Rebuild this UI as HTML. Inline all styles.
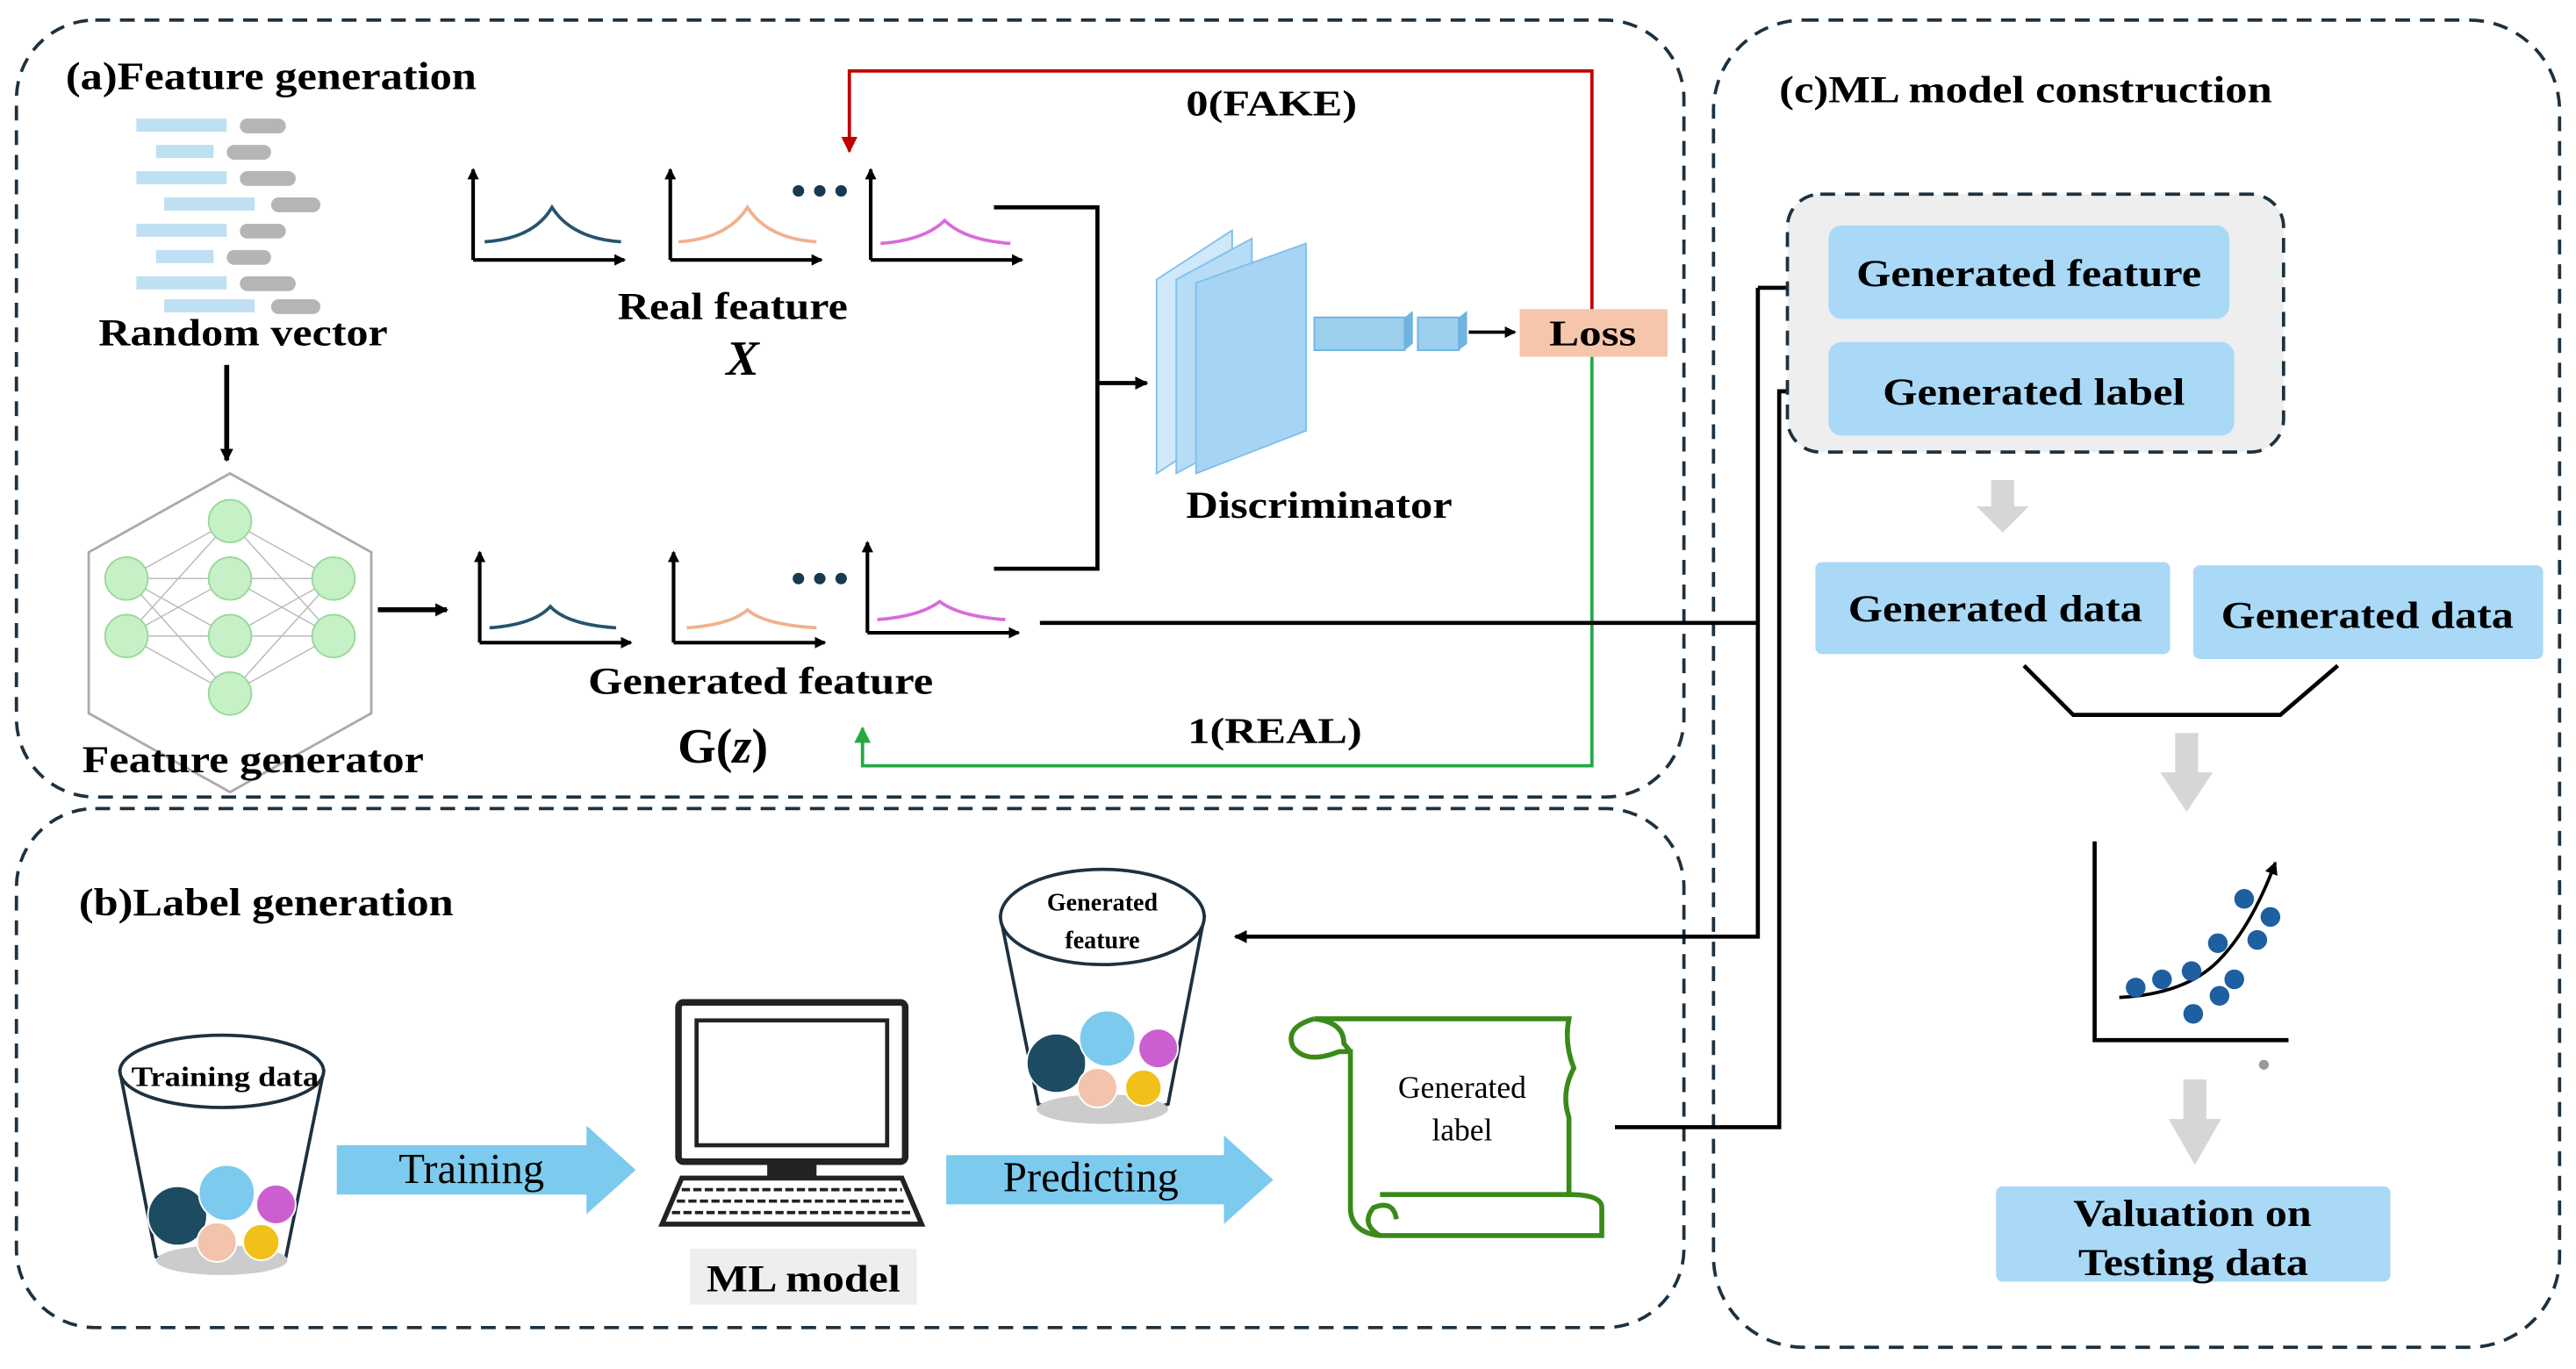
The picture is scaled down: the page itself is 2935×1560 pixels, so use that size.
<!DOCTYPE html>
<html><head><meta charset="utf-8"><style>
html,body{margin:0;padding:0;background:#fff;}
svg{display:block;}
text{font-family:"Liberation Serif",serif;font-weight:bold;}
</style></head><body>
<svg width="2935" height="1560" viewBox="0 0 1568 833" xmlns="http://www.w3.org/2000/svg">
<defs>
<marker id="ah" markerWidth="8" markerHeight="8" refX="7" refY="4" orient="auto" markerUnits="userSpaceOnUse"><path d="M0,0 L8,4 L0,8 z" fill="#000"/></marker>
<marker id="ahs" markerWidth="7" markerHeight="7" refX="6" refY="3.5" orient="auto" markerUnits="userSpaceOnUse"><path d="M0,0 L7,3.5 L0,7 z" fill="#000"/></marker>
<marker id="ahr" markerWidth="10" markerHeight="10" refX="9" refY="5" orient="auto" markerUnits="userSpaceOnUse"><path d="M0,0 L10,5 L0,10 z" fill="#c00000"/></marker>
<marker id="ahg" markerWidth="10" markerHeight="10" refX="9" refY="5" orient="auto" markerUnits="userSpaceOnUse"><path d="M0,0 L10,5 L0,10 z" fill="#22aa44"/></marker>
<g id="plot">
<path d="M0,55 V0" stroke="#000" stroke-width="2.2" marker-end="url(#ahs)"/>
<path d="M0,55 H92" stroke="#000" stroke-width="2.2" marker-end="url(#ahs)"/>
</g>
</defs>
<g fill="none" stroke="#1d3140" stroke-width="2" stroke-dasharray="9,6">
<rect x="10" y="12" width="1015" height="473" rx="48"/>
<rect x="10" y="492" width="1015" height="316" rx="48"/>
<rect x="1043" y="12" width="515" height="808" rx="55"/>
</g>
<text x="40" y="54" font-size="24" textLength="250" lengthAdjust="spacingAndGlyphs">(a)Feature generation</text>
<text x="48" y="557" font-size="24" textLength="228" lengthAdjust="spacingAndGlyphs">(b)Label generation</text>
<text x="1083" y="62" font-size="23" textLength="300" lengthAdjust="spacingAndGlyphs">(c)ML model construction</text>

<g fill="#bfe0f3">
<rect x="83" y="72" width="55" height="8"/><rect x="95" y="88" width="35" height="8"/><rect x="83" y="104" width="55" height="8"/><rect x="100" y="120" width="55" height="8"/>
<rect x="83" y="136" width="55" height="8"/><rect x="95" y="152" width="35" height="8"/><rect x="83" y="168" width="55" height="8"/><rect x="100" y="182" width="55" height="8"/>
</g>
<g fill="#b5b5b5">
<rect x="146" y="72" width="28" height="9" rx="4.5"/><rect x="138" y="88" width="27" height="9" rx="4.5"/><rect x="146" y="104" width="34" height="9" rx="4.5"/><rect x="165" y="120" width="30" height="9" rx="4.5"/>
<rect x="146" y="136" width="28" height="9" rx="4.5"/><rect x="138" y="152" width="27" height="9" rx="4.5"/><rect x="146" y="168" width="34" height="9" rx="4.5"/><rect x="165" y="182" width="30" height="9" rx="4.5"/>
</g>
<text x="60" y="210" font-size="23" textLength="176" lengthAdjust="spacingAndGlyphs">Random vector</text>
<path d="M138,222 V280" stroke="#000" stroke-width="3" marker-end="url(#ah)"/>

<polygon points="140,288 226,336 226,434 140,482 54,434 54,336" fill="#fff" stroke="#aaa" stroke-width="1.5"/>
<g stroke="#bbb" stroke-width="0.8">
<path d="M77,352 L140,317 M77,352 L140,352 M77,352 L140,387 M77,352 L140,422 M77,387 L140,317 M77,387 L140,352 M77,387 L140,387 M77,387 L140,422 M203,352 L140,317 M203,352 L140,352 M203,352 L140,387 M203,352 L140,422 M203,387 L140,317 M203,387 L140,352 M203,387 L140,387 M203,387 L140,422"/>
</g>
<g fill="#c6f0c6" stroke="#9ad89a">
<circle cx="140" cy="317" r="13"/><circle cx="140" cy="352" r="13"/><circle cx="140" cy="387" r="13"/><circle cx="140" cy="422" r="13"/>
<circle cx="77" cy="352" r="13"/><circle cx="77" cy="387" r="13"/><circle cx="203" cy="352" r="13"/><circle cx="203" cy="387" r="13"/>
</g>
<text x="50" y="470" font-size="23" textLength="208" lengthAdjust="spacingAndGlyphs">Feature generator</text>
<path d="M230,371 H272" stroke="#000" stroke-width="3" marker-end="url(#ah)"/>

<use href="#plot" x="288" y="103"/>
<path d="M295,147 Q325,145 336,126 Q348,145 378,147" fill="none" stroke="#25546e" stroke-width="2"/>
<use href="#plot" x="408" y="103"/>
<path d="M413,147 Q443,145 455,126 Q467,145 497,147" fill="none" stroke="#f0b08e" stroke-width="2"/>
<use href="#plot" x="530" y="103"/>
<path d="M536,148 Q563,146 575,134 Q587,146 615,148" fill="none" stroke="#d86cd8" stroke-width="2"/>
<g fill="#173a50"><circle cx="486" cy="116" r="3.5"/><circle cx="499" cy="116" r="3.5"/><circle cx="512" cy="116" r="3.5"/></g>
<text x="376" y="194" font-size="23" textLength="140" lengthAdjust="spacingAndGlyphs">Real feature</text>
<text x="452" y="228" font-size="30" text-anchor="middle" font-style="italic">X</text>

<use href="#plot" x="292" y="336"/>
<path d="M298,382 Q325,380 335,369 Q345,380 375,382" fill="none" stroke="#25546e" stroke-width="2"/>
<use href="#plot" x="410" y="336"/>
<path d="M418,382 Q445,380 455,371 Q465,380 497,382" fill="none" stroke="#f0b08e" stroke-width="2"/>
<use href="#plot" x="528" y="330"/>
<path d="M534,377 Q560,375 572,366 Q584,375 612,377" fill="none" stroke="#d86cd8" stroke-width="2"/>
<g fill="#173a50"><circle cx="486" cy="352" r="3.5"/><circle cx="499" cy="352" r="3.5"/><circle cx="512" cy="352" r="3.5"/></g>
<text x="358" y="422" font-size="23" textLength="210" lengthAdjust="spacingAndGlyphs">Generated feature</text>
<text x="440" y="464" font-size="30" text-anchor="middle">G(<tspan font-style="italic">z</tspan>)</text>

<path d="M605,126 H668 V346 H605" fill="none" stroke="#000" stroke-width="2.5"/>
<path d="M668,233 H698" stroke="#000" stroke-width="2.5" marker-end="url(#ah)"/>
<g stroke="#7fc0ea" stroke-width="1">
<polygon points="704,170 750,140 750,258 704,288" fill="#cfe9fa"/>
<polygon points="716,170 762,145 762,263 716,288" fill="#b6dcf6"/>
<polygon points="728,172 795,148 795,262 728,288" fill="#a6d4f4"/>
</g>
<rect x="800" y="193" width="55" height="20" fill="#9ccfee" stroke="#6fb3e0"/>
<polygon points="855,193 860,189 860,209 855,213" fill="#6fb3e0"/>
<rect x="863" y="193" width="25" height="20" fill="#9ccfee" stroke="#6fb3e0"/>
<polygon points="888,193 893,189 893,209 888,213" fill="#6fb3e0"/>
<path d="M894,202 H922" stroke="#000" stroke-width="2" marker-end="url(#ahs)"/>
<text x="722" y="315" font-size="23" textLength="162" lengthAdjust="spacingAndGlyphs">Discriminator</text>
<rect x="925" y="188" width="90" height="29" fill="#f6c6ac"/>
<text x="943" y="210" font-size="22" textLength="53" lengthAdjust="spacingAndGlyphs">Loss</text>

<path d="M969,188 V43 H517 V92" fill="none" stroke="#c00000" stroke-width="2" marker-end="url(#ahr)"/>
<text x="722" y="70" font-size="22" textLength="104" lengthAdjust="spacingAndGlyphs">0(FAKE)</text>
<path d="M969,217 V466 H525 V443" fill="none" stroke="#22aa44" stroke-width="2" marker-end="url(#ahg)"/>
<text x="723" y="452" font-size="22" textLength="106" lengthAdjust="spacingAndGlyphs">1(REAL)</text>

<path d="M633,379 H1070" fill="none" stroke="#000" stroke-width="2.5"/>
<path d="M1070,175 V570 H752" fill="none" stroke="#000" stroke-width="2.5" marker-end="url(#ah)"/>
<path d="M1070,175 H1115" fill="none" stroke="#000" stroke-width="2.5" marker-end="url(#ah)"/>
<path d="M983,686 H1083 V238 H1112" fill="none" stroke="#000" stroke-width="2.5" marker-end="url(#ah)"/>

<rect x="1088" y="118" width="302" height="157" rx="20" fill="#eeeeee" stroke="#1d3140" stroke-width="2" stroke-dasharray="9,6"/>
<rect x="1113" y="137" width="244" height="57" rx="8" fill="#a9d9f7"/>
<text x="1130" y="174" font-size="23" textLength="210" lengthAdjust="spacingAndGlyphs">Generated feature</text>
<rect x="1113" y="208" width="247" height="57" rx="8" fill="#a9d9f7"/>
<text x="1146" y="246" font-size="23" textLength="184" lengthAdjust="spacingAndGlyphs">Generated label</text>
<path d="M1212,292 h14 v16 h9 l-16,16 l-16,-16 h9 z" fill="#d6d6d6"/>
<rect x="1105" y="342" width="216" height="56" rx="4" fill="#a9d9f7"/>
<text x="1125" y="378" font-size="23" textLength="179" lengthAdjust="spacingAndGlyphs">Generated data</text>
<rect x="1335" y="344" width="213" height="57" rx="4" fill="#a9d9f7"/>
<text x="1352" y="382" font-size="23" textLength="178" lengthAdjust="spacingAndGlyphs">Generated data</text>
<path d="M1232,405 L1262,435 H1388 L1423,405" fill="none" stroke="#000" stroke-width="2.5"/>
<path d="M1324,446 h14 v24 h9 l-16,24 l-16,-24 h9 z" fill="#d6d6d6"/>
<path d="M1275,512 V633 H1393" fill="none" stroke="#000" stroke-width="2.5"/>
<path d="M1290,607 Q1330,605 1350,585 Q1370,565 1385,525" fill="none" stroke="#000" stroke-width="2" marker-end="url(#ah)"/>
<g fill="#1d5fa0">
<circle cx="1300" cy="601" r="6"/><circle cx="1316" cy="596" r="6"/><circle cx="1334" cy="591" r="6"/><circle cx="1335" cy="617" r="6"/><circle cx="1351" cy="606" r="6"/>
<circle cx="1360" cy="596" r="6"/><circle cx="1350" cy="574" r="6"/><circle cx="1374" cy="572" r="6"/><circle cx="1382" cy="558" r="6"/><circle cx="1366" cy="547" r="6"/>
</g>
<circle cx="1378" cy="648" r="3" fill="#999"/>
<path d="M1329,657 h14 v24 h9 l-16,28 l-16,-28 h9 z" fill="#d6d6d6"/>
<rect x="1215" y="722" width="240" height="58" rx="4" fill="#a9d9f7"/>
<text x="1262" y="746" font-size="23" textLength="145" lengthAdjust="spacingAndGlyphs">Valuation on</text>
<text x="1265" y="776" font-size="23" textLength="140" lengthAdjust="spacingAndGlyphs">Testing data</text>

<path d="M73,652 L95,765 Q135,777 174,765 L197,652 Z" fill="#fff" stroke="#1d3140" stroke-width="2"/>
<ellipse cx="135" cy="767" rx="40" ry="9" fill="#ccc"/>
<ellipse cx="135" cy="652" rx="62" ry="22" fill="#fff" stroke="#1d3140" stroke-width="2"/>
<text x="80" y="661" font-size="17" textLength="114" lengthAdjust="spacingAndGlyphs">Training data</text>
<circle cx="108" cy="740" r="18" fill="#1c4b62" stroke="#fff"/>
<circle cx="138" cy="726" r="17" fill="#7ccaee" stroke="#fff"/>
<circle cx="168" cy="733" r="12" fill="#cc5fcf" stroke="#fff"/>
<circle cx="132" cy="756" r="12" fill="#f3c3ac" stroke="#fff"/>
<circle cx="159" cy="756" r="11" fill="#f1c11a" stroke="#fff"/>
<path d="M205,697 H357 V685 L387,712 L357,739 V727 H205 Z" fill="#7ccaee"/>
<text x="287" y="720" font-size="26" text-anchor="middle" style="font-weight:normal">Training</text>
<rect x="413" y="610" width="138" height="97" rx="3" fill="#fff" stroke="#222" stroke-width="4"/>
<rect x="424" y="621" width="116" height="76" fill="#fff" stroke="#222" stroke-width="2.5"/>
<rect x="467" y="707" width="30" height="10" fill="#222"/>
<path d="M415,717 H549 L561,745 H403 Z" fill="#fff" stroke="#222" stroke-width="3"/>
<path d="M415,724 H549 M412,731 H552 M409,738 H555" stroke="#222" stroke-width="2" stroke-dasharray="5,2"/>
<rect x="420" y="760" width="138" height="34" fill="#eeeeee"/>
<text x="430" y="786" font-size="23" textLength="118" lengthAdjust="spacingAndGlyphs">ML model</text>
<path d="M576,703 H745 V691 L775,718 L745,745 V733 H576 Z" fill="#7ccaee"/>
<text x="664" y="725" font-size="26" text-anchor="middle" style="font-weight:normal">Predicting</text>
<path d="M609,558 L632,672 Q672,684 711,672 L733,558 Z" fill="#fff" stroke="#1d3140" stroke-width="2"/>
<ellipse cx="671" cy="675" rx="40" ry="9" fill="#ccc"/>
<ellipse cx="671" cy="558" rx="62" ry="29" fill="#fff" stroke="#1d3140" stroke-width="2"/>
<text x="671" y="554" font-size="15" text-anchor="middle">Generated</text>
<text x="671" y="577" font-size="15" text-anchor="middle">feature</text>
<circle cx="643" cy="647" r="18" fill="#1c4b62" stroke="#fff"/>
<circle cx="674" cy="632" r="17" fill="#7ccaee" stroke="#fff"/>
<circle cx="705" cy="638" r="12" fill="#cc5fcf" stroke="#fff"/>
<circle cx="668" cy="662" r="12" fill="#f3c3ac" stroke="#fff"/>
<circle cx="696" cy="662" r="11" fill="#f1c11a" stroke="#fff"/>
<g fill="none" stroke="#3a8a1a" stroke-width="3">
<path d="M800,620 H955 Q952,635 958,650 Q950,665 955,680 V727"/>
<path d="M800,620 Q782,625 787,637 Q795,648 815,640 L822,640 V735 Q822,750 840,752 H975 V735 Q975,727 955,727 H840"/>
<path d="M800,620 Q818,622 818,635 L822,640"/>
<path d="M840,752 Q828,745 836,735 Q848,730 850,742"/>
</g>
<text x="890" y="668" font-size="19" text-anchor="middle" style="font-weight:normal">Generated</text>
<text x="890" y="694" font-size="19" text-anchor="middle" style="font-weight:normal">label</text>
</svg>
</body></html>
